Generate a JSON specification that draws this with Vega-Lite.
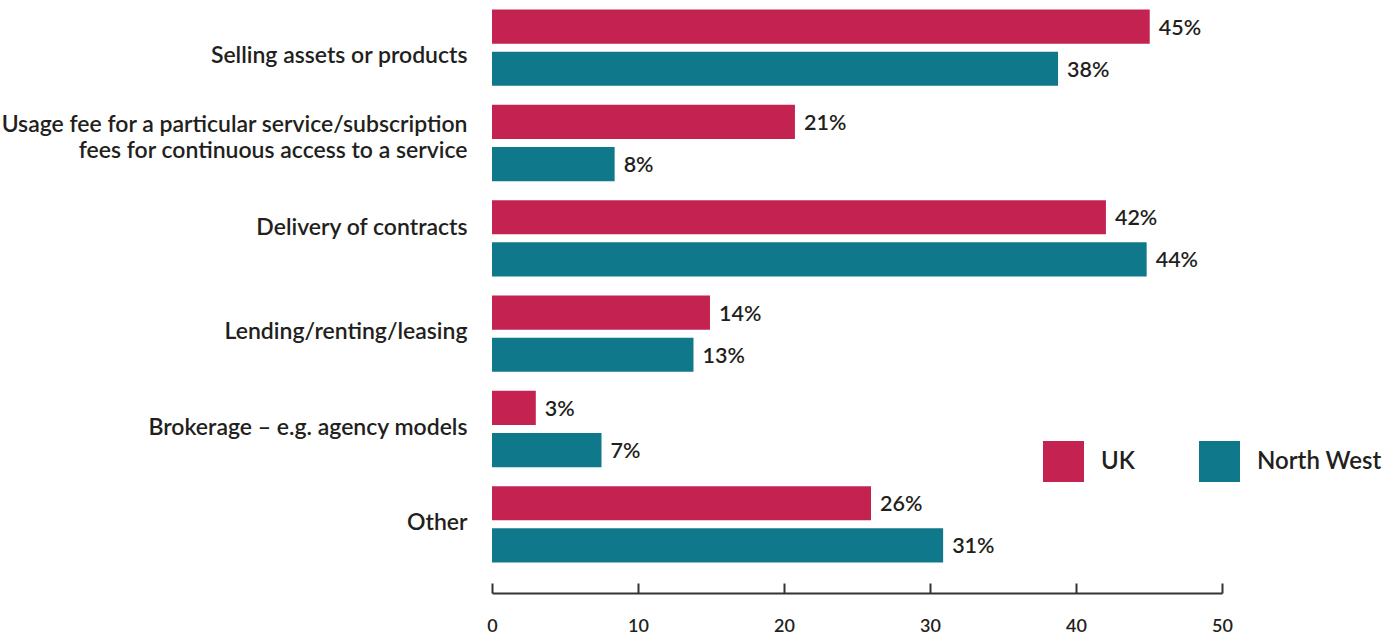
{
  "$schema": "https://vega.github.io/schema/vega-lite/v6.json",
  "width": 730,
  "height": 572,
  "autosize": {"type": "none"},
  "padding": {"left": 492, "top": 0, "right": 178, "bottom": 67},
  "background": "white",
  "config": {
    "view": {"stroke": null},
    "font": "Lato",
    "text": {"font": "Lato"}
  },
  "data": {
    "values": [
      {"category": "Selling assets or products", "region": "UK", "value": 45.05, "label": "45%"},
      {"category": "Selling assets or products", "region": "North West", "value": 38.77, "label": "38%"},
      {"category": "Usage fee for a particular service/subscription\nfees for continuous access to a service", "region": "UK", "value": 20.75, "label": "21%"},
      {"category": "Usage fee for a particular service/subscription\nfees for continuous access to a service", "region": "North West", "value": 8.4, "label": "8%"},
      {"category": "Delivery of contracts", "region": "UK", "value": 42.05, "label": "42%"},
      {"category": "Delivery of contracts", "region": "North West", "value": 44.84, "label": "44%"},
      {"category": "Lending/renting/leasing", "region": "UK", "value": 14.93, "label": "14%"},
      {"category": "Lending/renting/leasing", "region": "North West", "value": 13.8, "label": "13%"},
      {"category": "Brokerage – e.g. agency models", "region": "UK", "value": 3.0, "label": "3%"},
      {"category": "Brokerage – e.g. agency models", "region": "North West", "value": 7.5, "label": "7%"},
      {"category": "Other", "region": "UK", "value": 25.96, "label": "26%"},
      {"category": "Other", "region": "North West", "value": 30.9, "label": "31%"}
    ]
  },
  "encoding": {
    "y": {
      "field": "category",
      "type": "nominal",
      "sort": null,
      "scale": {"paddingInner": 0.2, "paddingOuter": 0.1},
      "axis": {
        "title": null,
        "domain": false,
        "ticks": false,
        "labelPadding": 25,
        "labelFontSize": 23,
        "labelFontWeight": 600,
        "labelColor": "#231f20",
        "labelLimit": 700,
        "labelLineHeight": 26,
        "labelExpr": "split(datum.value, '\\n')",
        "labelOffset": {
          "condition": [
            {"test": "indexof(datum.value, 'Selling') == 0", "value": 8},
            {"test": "indexof(datum.value, 'Usage') == 0", "value": -18},
            {"test": "indexof(datum.value, 'Delivery') == 0", "value": -10}
          ],
          "value": -1.5
        }
      }
    },
    "yOffset": {
      "field": "region",
      "type": "nominal",
      "sort": ["UK", "North West"],
      "scale": {"paddingInner": 0.19, "paddingOuter": 0}
    }
  },
  "layer": [
    {
      "mark": {"type": "bar"},
      "encoding": {
        "x": {
          "field": "value",
          "type": "quantitative",
          "scale": {"domain": [0, 50]},
          "axis": {
            "title": null,
            "grid": false,
            "values": [0, 10, 20, 30, 40, 50],
            "offset": 21,
            "domainColor": "#333333",
            "domainWidth": 2,
            "tickColor": "#333333",
            "tickWidth": 2,
            "tickSize": -10,
            "labelPadding": 34,
            "labelFontSize": 18,
            "labelFontWeight": 600,
            "labelColor": "#231f20",
            "labelFlush": false
          }
        },
        "color": {
          "field": "region",
          "type": "nominal",
          "sort": ["UK", "North West"],
          "scale": {"domain": ["UK", "North West"], "range": ["#c42352", "#10788b"]},
          "legend": {
            "title": null,
            "orient": "none",
            "direction": "horizontal",
            "legendX": 551,
            "legendY": 441,
            "padding": 0,
            "symbolType": "square",
            "symbolSize": 1681,
            "symbolStrokeWidth": 0,
            "symbolOpacity": 1,
            "labelFontSize": 24,
            "labelFontWeight": 600,
            "labelColor": "#231f20",
            "labelOffset": 17,
            "columnPadding": 64
          }
        }
      }
    },
    {
      "mark": {"type": "text", "align": "left", "baseline": "middle", "dx": 9, "dy": 2, "fontSize": 21.5, "fontWeight": 600, "color": "#231f20"},
      "encoding": {
        "x": {"field": "value", "type": "quantitative"},
        "text": {"field": "label"}
      }
    }
  ]
}
